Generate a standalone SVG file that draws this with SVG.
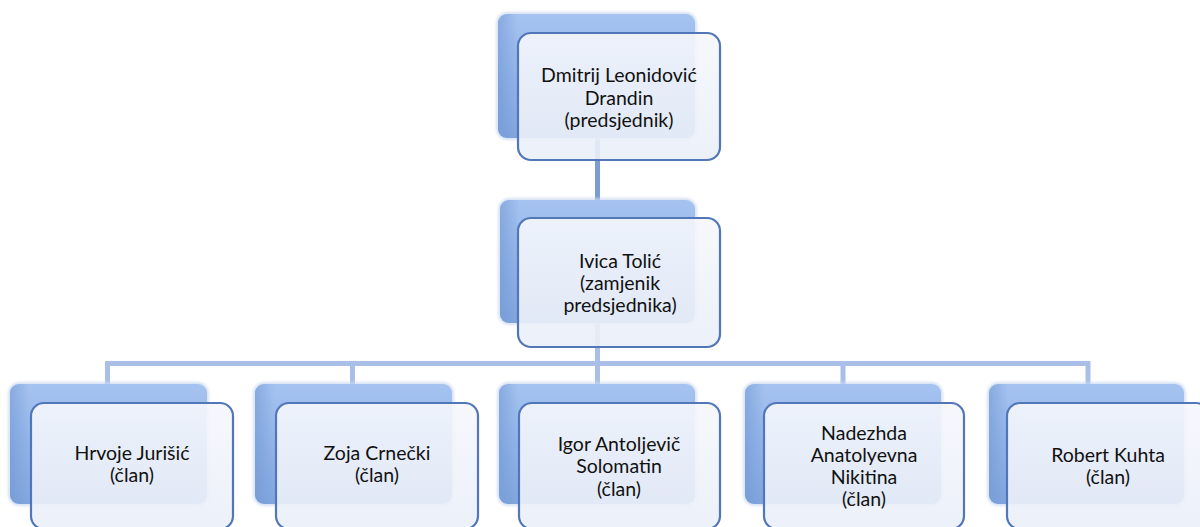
<svg xmlns="http://www.w3.org/2000/svg" width="1200" height="527" viewBox="0 0 1200 527">
  <defs>
    <linearGradient id="backGrad" x1="0" y1="0" x2="0" y2="1">
      <stop offset="0" stop-color="#a6c3f0"/>
      <stop offset="0.5" stop-color="#92b4e9"/>
      <stop offset="1" stop-color="#82a6de"/>
    </linearGradient>
    <linearGradient id="sideGrad" x1="0" y1="0" x2="1" y2="0">
      <stop offset="0" stop-color="#6f96d2" stop-opacity="0.55"/>
      <stop offset="0.1" stop-color="#6f96d2" stop-opacity="0"/>
    </linearGradient>
    <linearGradient id="frontGrad" x1="0" y1="0" x2="0" y2="1">
      <stop offset="0" stop-color="#f5f7fc"/>
      <stop offset="1" stop-color="#eaeff8"/>
    </linearGradient>
    <filter id="soft" x="-10%" y="-10%" width="120%" height="120%">
      <feGaussianBlur stdDeviation="1.5"/>
    </filter>
  </defs>
  <style>
    .back { fill: url(#backGrad); }
    .backside { fill: url(#sideGrad); }
    .backglow { fill: none; stroke: #c9d8f0; stroke-width: 3; filter: url(#soft); }
    .front { fill: url(#frontGrad); fill-opacity: 0.9; stroke: #5277b9; stroke-width: 2.2; }
    .lbl { font-family: Lato, "Liberation Sans", sans-serif; font-size: 19.5px; fill: #111111; text-anchor: middle; }
    .conn1 { stroke: #7a9dd4; stroke-width: 5; fill: none; }
    .conn2 { stroke: #a9bfe8; stroke-width: 5; fill: none; }
  </style>

  <g id="connectors">
    <line class="conn1" x1="597.5" y1="130" x2="597.5" y2="205"/>
    <line class="conn2" x1="597.5" y1="315" x2="597.5" y2="390"/>
    <polyline class="conn2" points="107.5,390 107.5,363.5 1088,363.5 1088,390"/>
    <line class="conn2" x1="352.5" y1="363.5" x2="352.5" y2="390"/>
    <line class="conn2" x1="843" y1="363.5" x2="843" y2="390"/>
  </g>

  <g id="node-drandin">
    <rect class="backglow" x="498" y="14" width="197" height="124" rx="9"/>
    <rect class="back" x="498" y="14" width="197" height="124" rx="9"/>
    <rect class="backside" x="498" y="14" width="197" height="124" rx="9"/>
    <rect class="front" x="518" y="33" width="202" height="127" rx="13"/>
    <text class="lbl" x="619" y="82">Dmitrij Leonidović</text>
    <text class="lbl" x="619" y="104.5">Drandin</text>
    <text class="lbl" x="619" y="127">(predsjednik)</text>
  </g>

  <g id="node-tolic">
    <rect class="backglow" x="500" y="200" width="195" height="123" rx="9"/>
    <rect class="back" x="500" y="200" width="195" height="123" rx="9"/>
    <rect class="backside" x="500" y="200" width="195" height="123" rx="9"/>
    <rect class="front" x="518" y="218" width="202" height="129" rx="13"/>
    <text class="lbl" x="620" y="268">Ivica Tolić</text>
    <text class="lbl" x="620" y="290">(zamjenik</text>
    <text class="lbl" x="620" y="312">predsjednika)</text>
  </g>

  <g id="node-jurisic">
    <rect class="backglow" x="10" y="384" width="197" height="120" rx="9"/>
    <rect class="back" x="10" y="384" width="197" height="120" rx="9"/>
    <rect class="backside" x="10" y="384" width="197" height="120" rx="9"/>
    <rect class="front" x="31" y="403" width="202" height="126" rx="13"/>
    <text class="lbl" x="132" y="460">Hrvoje Jurišić</text>
    <text class="lbl" x="132" y="482">(član)</text>
  </g>

  <g id="node-crnecki">
    <rect class="backglow" x="255" y="384" width="197" height="120" rx="9"/>
    <rect class="back" x="255" y="384" width="197" height="120" rx="9"/>
    <rect class="backside" x="255" y="384" width="197" height="120" rx="9"/>
    <rect class="front" x="276" y="403" width="202" height="126" rx="13"/>
    <text class="lbl" x="377" y="460">Zoja Crnečki</text>
    <text class="lbl" x="377" y="482">(član)</text>
  </g>

  <g id="node-solomatin">
    <rect class="backglow" x="499" y="384" width="196" height="120" rx="9"/>
    <rect class="back" x="499" y="384" width="196" height="120" rx="9"/>
    <rect class="backside" x="499" y="384" width="196" height="120" rx="9"/>
    <rect class="front" x="519" y="403" width="201" height="126" rx="13"/>
    <text class="lbl" x="619" y="451">Igor Antoljevič</text>
    <text class="lbl" x="619" y="473">Solomatin</text>
    <text class="lbl" x="619" y="496">(član)</text>
  </g>

  <g id="node-nikitina">
    <rect class="backglow" x="745" y="384" width="196" height="120" rx="9"/>
    <rect class="back" x="745" y="384" width="196" height="120" rx="9"/>
    <rect class="backside" x="745" y="384" width="196" height="120" rx="9"/>
    <rect class="front" x="764" y="403" width="200" height="126" rx="13"/>
    <text class="lbl" x="864" y="440">Nadezhda</text>
    <text class="lbl" x="864" y="462">Anatolyevna</text>
    <text class="lbl" x="864" y="484">Nikitina</text>
    <text class="lbl" x="864" y="506">(član)</text>
  </g>

  <g id="node-kuhta">
    <rect class="backglow" x="989" y="384" width="195" height="120" rx="9"/>
    <rect class="back" x="989" y="384" width="195" height="120" rx="9"/>
    <rect class="backside" x="989" y="384" width="195" height="120" rx="9"/>
    <rect class="front" x="1007" y="403" width="202" height="126" rx="13"/>
    <text class="lbl" x="1108" y="462">Robert Kuhta</text>
    <text class="lbl" x="1108" y="484">(član)</text>
  </g>
</svg>
